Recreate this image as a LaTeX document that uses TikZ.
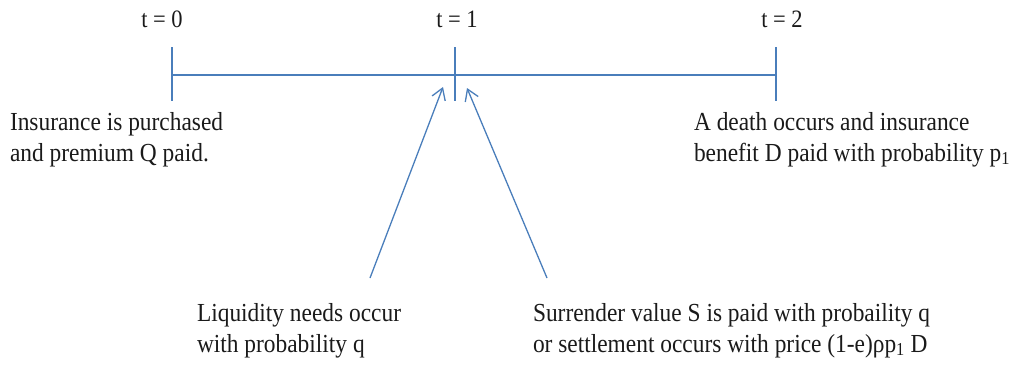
\documentclass[tikz,border=0pt]{standalone}
\usepackage{fontspec}
\setmainfont{Liberation Serif}
\usetikzlibrary{arrows.meta}
\definecolor{lineblue}{HTML}{4A7EBB}
\definecolor{txt}{HTML}{1A1A1A}
\newcommand\narrowtxt[1]{\scalebox{0.9}[1]{#1}}
\begin{document}
\begin{tikzpicture}[x=1pt,y=-1pt,
  tl/.style={draw=lineblue,line width=1.6pt},
  lbl/.style={inner sep=0pt,outer sep=0pt,text=txt,font=\fontsize{26}{31}\selectfont,align=left,anchor=base west},
  tlab/.style={inner sep=0pt,text=txt,font=\fontsize{25}{28}\selectfont,anchor=base},
  arr/.style={draw=lineblue,line width=1.3pt,-{Straight Barb[length=11pt,width=14pt,line width=1.3pt]}}]
\useasboundingbox (0,0) rectangle (1011,365);
% timeline
\coordinate (p0) at (172,75);
\coordinate (p1) at (455,75);
\coordinate (p2) at (776,75);
\draw[tl] (p0) -- (p2);
\draw[tl] (172,47) -- (172,101);
\draw[tl] (455,47) -- (455,101);
\draw[tl] (776,47) -- (776,101);
% time labels
\node[tlab] (t0) at (162,27) {\narrowtxt{t = 0}};
\node[tlab] (t1) at (457,27) {\narrowtxt{t = 1}};
\node[tlab] (t2) at (782,27) {\narrowtxt{t = 2}};
% texts (anchor at baseline of the last line)
\node[lbl] (ins) at (10,161) {\narrowtxt{Insurance is purchased}\\\narrowtxt{and premium Q paid.}};
\node[lbl] (death) at (694,161) {\narrowtxt{A death occurs and insurance}\\\narrowtxt{benefit D paid with probability p\textsubscript{1}}};
\node[lbl] (liq) at (197,352) {\narrowtxt{Liquidity needs occur}\\\narrowtxt{with probability q}};
\node[lbl] (sur) at (533,352) {\narrowtxt{Surrender value S is paid with probaility q}\\\narrowtxt{or settlement occurs with price (1-e)ρp\textsubscript{1} D}};
% arrows
\coordinate (a1s) at (370,278);
\coordinate (a1e) at (443,87);
\coordinate (a2s) at (547,278);
\coordinate (a2e) at (467,88);
\draw[arr] (a1s) -- (a1e);
\draw[arr] (a2s) -- (a2e);
\end{tikzpicture}
\end{document}
